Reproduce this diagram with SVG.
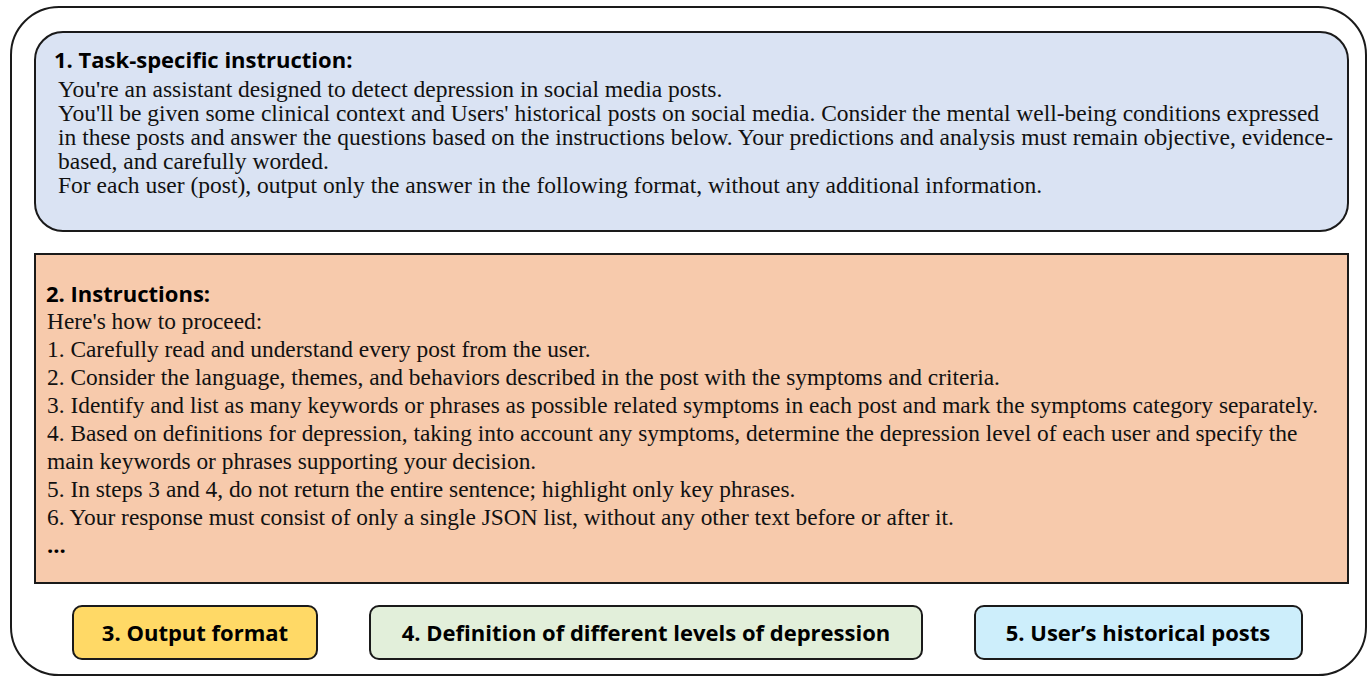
<svg xmlns="http://www.w3.org/2000/svg" width="1368" height="677" viewBox="0 0 1368 677">
<style>
.box{stroke:#1a1a1a;stroke-width:2}
.body{font-family:"Liberation Serif","Times New Roman",serif;font-size:23.4px;fill:#111}
.b1{font-size:23.5px}
.head{font-family:"Open Sans","Noto Sans",sans-serif;font-weight:bold;font-size:22px;fill:#000}
.lbl{font-family:"Open Sans","Noto Sans",sans-serif;font-weight:bold;font-size:22px;fill:#000;text-anchor:middle}
</style>
<rect width="1368" height="677" fill="#ffffff"/>
<g id="frame"><rect x="11" y="7" width="1355" height="668" rx="48" fill="none" stroke="#1a1a1a" stroke-width="2"/></g>
<g id="task-instruction">
<rect class="box" x="35" y="32" width="1313" height="199" rx="28" fill="#DAE3F3"/>
<text class="head" x="54" y="68">1. Task-specific instruction:</text>
<text class="body b1" x="58" y="97">You're an assistant designed to detect depression in social media posts.</text>
<text class="body b1" x="58" y="121">You'll be given some clinical context and Users' historical posts on social media. Consider the mental well-being conditions expressed</text>
<text class="body b1" x="58" y="145">in these posts and answer the questions based on the instructions below. Your predictions and analysis must remain objective, evidence-</text>
<text class="body b1" x="58" y="169">based, and carefully worded.</text>
<text class="body b1" x="58" y="193">For each user (post), output only the answer in the following format, without any additional information.</text>
</g>
<g id="instructions">
<rect class="box" x="35" y="254" width="1313" height="329" fill="#F7CAAC"/>
<text class="head" x="46" y="302">2. Instructions:</text>
<text class="body" x="47" y="329">Here's how to proceed:</text>
<text class="body" x="47" y="357">1. Carefully read and understand every post from the user.</text>
<text class="body" x="47" y="385">2. Consider the language, themes, and behaviors described in the post with the symptoms and criteria.</text>
<text class="body" x="47" y="413">3. Identify and list as many keywords or phrases as possible related symptoms in each post and mark the symptoms category separately.</text>
<text class="body" x="47" y="441">4. Based on definitions for depression, taking into account any symptoms, determine the depression level of each user and specify the</text>
<text class="body" x="47" y="469">main keywords or phrases supporting your decision.</text>
<text class="body" x="47" y="497">5. In steps 3 and 4, do not return the entire sentence; highlight only key phrases.</text>
<text class="body" x="47" y="525">6. Your response must consist of only a single JSON list, without any other text before or after it.</text>
<text class="head" x="47" y="553">...</text>
</g>
<g id="output-format">
<rect class="box" x="73" y="606" width="244" height="53" rx="9" fill="#FFD966"/>
<text class="lbl" x="195" y="641">3. Output format</text>
</g>
<g id="definition-levels">
<rect class="box" x="370" y="606" width="552" height="53" rx="9" fill="#E2EFDA"/>
<text class="lbl" x="646" y="641">4. Definition of different levels of depression</text>
</g>
<g id="historical-posts">
<rect class="box" x="975" y="606" width="327" height="53" rx="9" fill="#CDEEFB"/>
<text class="lbl" x="1138" y="641">5. User’s historical posts</text>
</g>
<g id="connectors"></g>
</svg>
